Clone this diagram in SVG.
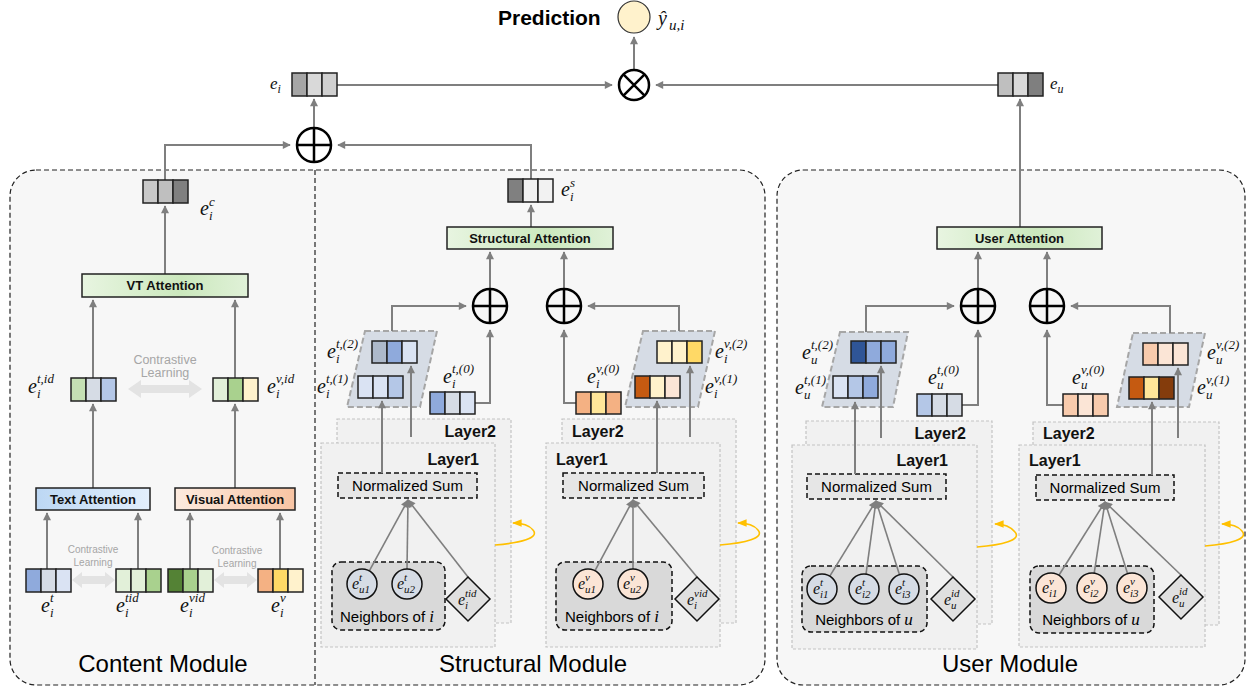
<svg xmlns="http://www.w3.org/2000/svg" width="1253" height="689" viewBox="0 0 1253 689">
<defs>
<marker id="ah" viewBox="0 0 10 10" refX="9" refY="5" markerWidth="4.5" markerHeight="4" orient="auto" markerUnits="strokeWidth"><path d="M0,0 L10,5 L0,10 z" fill="#7f7f7f"/></marker>
<marker id="ahs" viewBox="0 0 10 10" refX="9" refY="5" markerWidth="6" markerHeight="5" orient="auto" markerUnits="strokeWidth"><path d="M0,0 L10,5 L0,10 z" fill="#7f7f7f"/></marker>
<marker id="ahy" viewBox="0 0 10 10" refX="9" refY="5" markerWidth="6" markerHeight="6" orient="auto" markerUnits="strokeWidth"><path d="M0,1 L10,5 L0,9 z" fill="#ffc000"/></marker>
<linearGradient id="gG" x1="0" x2="1" y1="0" y2="0"><stop offset="0" stop-color="#e8f5e1"/><stop offset="0.6" stop-color="#cbe8bd"/><stop offset="1" stop-color="#e0f1d8"/></linearGradient>
<linearGradient id="gB" x1="0" x2="1" y1="0" y2="0"><stop offset="0" stop-color="#bcd7f4"/><stop offset="1" stop-color="#e3effc"/></linearGradient>
<linearGradient id="gO" x1="0" x2="1" y1="0" y2="0"><stop offset="0" stop-color="#fdebdf"/><stop offset="1" stop-color="#f8c4a3"/></linearGradient>
<style>
.ln{fill:none;stroke:#7f7f7f;stroke-width:2;marker-end:url(#ah)}
.nl{fill:none;stroke:#7f7f7f;stroke-width:1.6;marker-end:url(#ahs)}
.yl{fill:none;stroke:#ffc000;stroke-width:1.6;marker-end:url(#ahy)}
.c{stroke:#222;stroke-width:1.5}
.mod{fill:#f7f7f7;stroke:#222;stroke-width:1.2;stroke-dasharray:5 3}
.lay{fill:#f1f1f1;stroke:#c4c4c4;stroke-width:1.2;stroke-dasharray:3 2}
.par{fill:#d6dce5;stroke:#a6a6a6;stroke-width:2;stroke-dasharray:6 3}
.ns{fill:#e6e6e6;stroke:#111;stroke-width:1.5;stroke-dasharray:5 3}
.nb{fill:#d9d9d9;stroke:#111;stroke-width:1.5;stroke-dasharray:5 3}
.ct{fill:#d6dce5;stroke:#111;stroke-width:1.5}
.cv{fill:#fbe5d6;stroke:#111;stroke-width:1.5}
.dm{fill:#e0e0e0;stroke:#111;stroke-width:1.5}
.op{fill:none;stroke:#000;stroke-width:2.5}
.att{stroke:#222;stroke-width:1.5}
.s{font-family:"Liberation Sans",Arial,sans-serif;fill:#000}
.at{font-family:"Liberation Sans",Arial,sans-serif;font-weight:bold;font-size:13px;text-anchor:middle;fill:#111}
.lt{font-family:"Liberation Sans",Arial,sans-serif;font-weight:bold;font-size:16px;fill:#111}
.ttl{font-family:"Liberation Sans",Arial,sans-serif;font-size:24px;text-anchor:middle;fill:#000}
.cl{font-family:"Liberation Sans",Arial,sans-serif;fill:#a6a6a6;text-anchor:middle}
.mb{font-family:"Liberation Serif","Times New Roman",serif;font-style:italic;font-size:20px;fill:#111}
.ms{font-size:13px}
.mt{font-family:"Liberation Serif","Times New Roman",serif;font-style:italic;font-size:17px;fill:#111}
.mts{font-size:12px}
.mc{font-family:"Liberation Serif","Times New Roman",serif;font-style:italic;font-size:16px;fill:#111}
.mcs{font-size:11px}
</style>
</defs>
<rect width="1253" height="689" fill="#fff"/>

<!-- module backgrounds -->
<g id="content-structural-module">
<rect class="mod" x="10" y="170" width="755" height="515" rx="26"/>
<line x1="315" y1="170" x2="315" y2="685" stroke="#222" stroke-width="1.2" stroke-dasharray="5 3"/>
</g>
<g id="user-module"><rect class="mod" x="777" y="170" width="468" height="515" rx="26"/></g>

<!-- layer boxes -->
<g id="s-layers-t">
<rect class="lay" x="337" y="419" width="174" height="204"/>
<text class="lt" x="496" y="437" text-anchor="end">Layer2</text>
<rect class="lay" x="321" y="443" width="174" height="204"/>
<text class="lt" x="479" y="465" text-anchor="end">Layer1</text>
</g>
<g id="s-layers-v">
<rect class="lay" x="562" y="419" width="174" height="204"/>
<text class="lt" x="572" y="437">Layer2</text>
<rect class="lay" x="546" y="443" width="174" height="204"/>
<text class="lt" x="556" y="465">Layer1</text>
</g>
<g id="u-layers-t">
<rect class="lay" x="806" y="421" width="186" height="203"/>
<text class="lt" x="966" y="439" text-anchor="end">Layer2</text>
<rect class="lay" x="792" y="445" width="185" height="204"/>
<text class="lt" x="948" y="466" text-anchor="end">Layer1</text>
</g>
<g id="u-layers-v">
<rect class="lay" x="1033" y="422" width="186" height="203"/>
<text class="lt" x="1043" y="439">Layer2</text>
<rect class="lay" x="1019" y="445" width="186" height="202"/>
<text class="lt" x="1029" y="466">Layer1</text>
</g>

<!-- parallelograms -->
<g id="s-par-t"><polygon class="par" points="365,331 437,331 420,407 347,407"/></g>
<g id="s-par-v"><polygon class="par" points="643,331 715,331 698,407 625,407"/></g>
<g id="u-par-t"><polygon class="par" points="840,332 908,332 893,407 822,407"/></g>
<g id="u-par-v"><polygon class="par" points="1133,333 1205,333 1189,407 1117,407"/></g>

<!-- neighbor boxes -->
<g id="s-neigh-t"><rect class="nb" x="332" y="562" width="113" height="68" rx="9"/><text class="s" x="387" y="622" font-size="15" text-anchor="middle">Neighbors of <tspan font-family="Liberation Serif,serif" font-style="italic" font-size="17">i</tspan></text></g>
<g id="s-neigh-v"><rect class="nb" x="556" y="562" width="116" height="68" rx="9"/><text class="s" x="612" y="622" font-size="15" text-anchor="middle">Neighbors of <tspan font-family="Liberation Serif,serif" font-style="italic" font-size="17">i</tspan></text></g>
<g id="u-neigh-t"><rect class="nb" x="802" y="566" width="125" height="66" rx="9"/><text class="s" x="864" y="625" font-size="15" text-anchor="middle">Neighbors of <tspan font-family="Liberation Serif,serif" font-style="italic" font-size="17">u</tspan></text></g>
<g id="u-neigh-v"><rect class="nb" x="1030" y="566" width="124" height="67" rx="9"/><text class="s" x="1091" y="625" font-size="15" text-anchor="middle">Neighbors of <tspan font-family="Liberation Serif,serif" font-style="italic" font-size="17">u</tspan></text></g>

<!-- normalized sum -->
<g id="s-nsum-t"><rect class="ns" x="338" y="473" width="139" height="25"/><text class="s" x="407.5" y="491" font-size="15" text-anchor="middle">Normalized Sum</text></g>
<g id="s-nsum-v"><rect class="ns" x="563" y="473" width="141" height="25"/><text class="s" x="633.5" y="491" font-size="15" text-anchor="middle">Normalized Sum</text></g>
<g id="u-nsum-t"><rect class="ns" x="807" y="474" width="139" height="25"/><text class="s" x="876.5" y="492" font-size="15" text-anchor="middle">Normalized Sum</text></g>
<g id="u-nsum-v"><rect class="ns" x="1036" y="475" width="138" height="25"/><text class="s" x="1105" y="493" font-size="15" text-anchor="middle">Normalized Sum</text></g>

<!-- connectors -->
<g id="connectors">
<path class="ln" d="M634,69 V37"/>
<path class="ln" d="M337,85 H612"/>
<path class="ln" d="M998,85 H656"/>
<path class="ln" d="M1020,227 V99"/>
<path class="ln" d="M314,128 V99"/>
<path class="ln" d="M165,180 V145 H290"/>
<path class="ln" d="M531,179 V145 H338"/>
<path class="ln" d="M165,274 V206"/>
<path class="ln" d="M93,378 V300"/>
<path class="ln" d="M235,378 V300"/>
<path class="ln" d="M93,488 V404"/>
<path class="ln" d="M235,488 V404"/>
<path class="ln" d="M47,569 V513"/>
<path class="ln" d="M138,569 V513"/>
<path class="ln" d="M190,569 V513"/>
<path class="ln" d="M280,569 V513"/>
<path class="ln" d="M531,227 V205"/>
<path class="ln" d="M490,289 V252"/>
<path class="ln" d="M564,289 V252"/>
<path class="ln" d="M392,331 V306 H466"/>
<path class="ln" d="M474,403 H490 V330"/>
<path class="ln" d="M679,331 V306 H588"/>
<path class="ln" d="M576,403 H564 V330"/>
<path class="ln" d="M382,473 V401"/>
<path class="ln" d="M411,437 V366"/>
<path class="ln" d="M657,473 V401"/>
<path class="ln" d="M690,437 V366"/>
<path class="ln" d="M978,289 V252"/>
<path class="ln" d="M1047,289 V252"/>
<path class="ln" d="M866,332 V306 H954"/>
<path class="ln" d="M962,405 H978 V330"/>
<path class="ln" d="M1170,333 V306 H1071"/>
<path class="ln" d="M1063,405 H1047 V330"/>
<path class="ln" d="M855,474 V402"/>
<path class="ln" d="M881,438 V366"/>
<path class="ln" d="M1152,475 V402"/>
<path class="ln" d="M1178,438 V368"/>
<path class="nl" d="M369.3,570.9 L408,500"/>
<path class="nl" d="M407,569 L408,500"/>
<path class="nl" d="M468,577 L408,500"/>
<path class="nl" d="M595,570.7 L633,500"/>
<path class="nl" d="M633,569 L633,500"/>
<path class="nl" d="M697,577 L633,500"/>
<path class="nl" d="M829.8,576.2 L876,501"/>
<path class="nl" d="M866,574.1 L876,501"/>
<path class="nl" d="M899.5,574.7 L876,501"/>
<path class="nl" d="M953,577 L876,501"/>
<path class="nl" d="M1058.9,575.3 L1105,502"/>
<path class="nl" d="M1094.2,573.2 L1105,502"/>
<path class="nl" d="M1127.6,573.7 L1105,502"/>
<path class="nl" d="M1181,575 L1105,502"/>
<path class="yl" d="M495,545 C520,543 540,538 533,530 C529,525 522,523 513,523"/>
<path class="yl" d="M720,545 C745,543 765,538 758,530 C754,525 747,523 738,523"/>
<path class="yl" d="M977,547 C1002,545 1022,540 1015,532 C1011,527 1004,524 995,524"/>
<path class="yl" d="M1205,546 C1230,544 1249,539 1242,531 C1238,526 1231,524 1222,524"/>
<polygon points="128,389 141,380 141,385 189,385 189,380 202,389 189,398 189,393 141,393 141,398" fill="#e3e3e3"/>
<polygon points="72,580 82,572 82,576 105,576 105,572 115,580 105,588 105,584 82,584 82,588" fill="#e3e3e3"/>
<polygon points="214,580 224,572 224,576 247,576 247,572 257,580 247,588 247,584 224,584 224,588" fill="#e3e3e3"/>
</g>

<!-- top -->
<g id="prediction">
<text class="s" x="498" y="25" font-size="21" font-weight="bold">Prediction</text>
<circle cx="634" cy="17" r="16" fill="#fff2cc" stroke="#333" stroke-width="1.2"/>
<text class="mb" x="658" y="25" font-size="22">ŷ<tspan x="669" y="30" font-size="15">u,i</tspan></text>
</g>
<g id="mult"><circle class="op" cx="634" cy="85" r="15"/><path class="op" d="M623.4,74.4 L644.6,95.6 M644.6,74.4 L623.4,95.6"/></g>
<g id="add-top"><circle class="op" cx="314" cy="145" r="17"/><path class="op" d="M297,145 H331 M314,128 V162"/></g>
<g id="s-add-t"><circle class="op" cx="490" cy="306" r="17"/><path class="op" d="M473,306 H507 M490,289 V323"/></g>
<g id="s-add-v"><circle class="op" cx="564" cy="306" r="17"/><path class="op" d="M547,306 H581 M564,289 V323"/></g>
<g id="u-add-t"><circle class="op" cx="978" cy="306" r="17"/><path class="op" d="M961,306 H995 M978,289 V323"/></g>
<g id="u-add-v"><circle class="op" cx="1047" cy="306" r="17"/><path class="op" d="M1030,306 H1064 M1047,289 V323"/></g>

<!-- vectors -->
<g id="e-i"><rect class="c" x="292" y="73" width="15" height="23" fill="#a6a6a6"/><rect class="c" x="307" y="73" width="15" height="23" fill="#d9d9d9"/><rect class="c" x="322" y="73" width="15" height="23" fill="#d0d0d0"/><text class="mt" x="270" y="89">e<tspan class="mts" x="277.5" y="93">i</tspan></text></g>
<g id="e-u"><rect class="c" x="998" y="73" width="15" height="23" fill="#bfbfbf"/><rect class="c" x="1013" y="73" width="15" height="23" fill="#d9d9d9"/><rect class="c" x="1028" y="73" width="15" height="23" fill="#7f7f7f"/><text class="mt" x="1050" y="89">e<tspan class="mts" x="1057.5" y="93">u</tspan></text></g>
<g id="e-ic"><rect class="c" x="143" y="180" width="15" height="23" fill="#c9c9c9"/><rect class="c" x="158" y="180" width="15" height="23" fill="#bfbfbf"/><rect class="c" x="173" y="180" width="15" height="23" fill="#808080"/><text class="mb" x="200" y="215">e<tspan class="ms" x="209" y="220">i</tspan><tspan class="ms" x="209" y="206">c</tspan></text></g>
<g id="e-is"><rect class="c" x="508" y="179" width="15" height="23" fill="#808080"/><rect class="c" x="523" y="179" width="15" height="23" fill="#f2f2f2"/><rect class="c" x="538" y="179" width="15" height="23" fill="#f2f2f2"/><text class="mb" x="561" y="196">e<tspan class="ms" x="570" y="201">i</tspan><tspan class="ms" x="570" y="187">s</tspan></text></g>

<g id="e-it-id"><rect class="c" x="71" y="378" width="15" height="23" fill="#c5e0b4"/><rect class="c" x="86" y="378" width="15" height="23" fill="#d6dce5"/><rect class="c" x="101" y="378" width="15" height="23" fill="#b4c7e7"/><text class="mb" x="28" y="393">e<tspan class="ms" x="37" y="398">i</tspan><tspan class="ms" x="37" y="383">t,id</tspan></text></g>
<g id="e-iv-id"><rect class="c" x="213" y="378" width="15" height="23" fill="#e2f0d9"/><rect class="c" x="228" y="378" width="15" height="23" fill="#a9d18e"/><rect class="c" x="243" y="378" width="15" height="23" fill="#fff2cc"/><text class="mb" x="267" y="393">e<tspan class="ms" x="276" y="398">i</tspan><tspan class="ms" x="276" y="383">v,id</tspan></text></g>
<g id="cl-top"><text class="cl" x="165" y="364" font-size="12.5">Contrastive</text><text class="cl" x="165" y="377" font-size="12.5">Learning</text></g>

<g id="vt-att"><rect class="att" x="82" y="274" width="166" height="23" fill="url(#gG)"/><text class="at" x="165" y="290">VT Attention</text></g>
<g id="text-att"><rect class="att" x="36" y="488" width="114" height="22" fill="url(#gB)"/><text class="at" x="93" y="504">Text Attention</text></g>
<g id="visual-att"><rect class="att" x="175" y="488" width="120" height="22" fill="url(#gO)"/><text class="at" x="235" y="504">Visual Attention</text></g>
<g id="struct-att"><rect class="att" x="447" y="227" width="166" height="22" fill="url(#gG)"/><text class="at" x="530" y="243">Structural Attention</text></g>
<g id="user-att"><rect class="att" x="937" y="227" width="165" height="22" fill="url(#gG)"/><text class="at" x="1019.5" y="243">User Attention</text></g>

<g id="e-it"><rect class="c" x="26" y="569" width="15" height="23" fill="#8faadc"/><rect class="c" x="41" y="569" width="15" height="23" fill="#d6dce5"/><rect class="c" x="56" y="569" width="15" height="23" fill="#dae3f3"/><text class="mb" x="41" y="612">e<tspan class="ms" x="50" y="617">i</tspan><tspan class="ms" x="50" y="602">t</tspan></text></g>
<g id="e-itid"><rect class="c" x="116" y="569" width="15" height="23" fill="#e2f0d9"/><rect class="c" x="131" y="569" width="15" height="23" fill="#e2f0d9"/><rect class="c" x="146" y="569" width="15" height="23" fill="#a9d18e"/><text class="mb" x="116" y="612">e<tspan class="ms" x="125" y="617">i</tspan><tspan class="ms" x="125" y="602">tid</tspan></text></g>
<g id="e-ivid"><rect class="c" x="168" y="569" width="15" height="23" fill="#548235"/><rect class="c" x="183" y="569" width="15" height="23" fill="#a9d18e"/><rect class="c" x="198" y="569" width="15" height="23" fill="#e2f0d9"/><text class="mb" x="180" y="612">e<tspan class="ms" x="189" y="617">i</tspan><tspan class="ms" x="189" y="602">vid</tspan></text></g>
<g id="e-iv"><rect class="c" x="258" y="569" width="15" height="23" fill="#f4b183"/><rect class="c" x="273" y="569" width="15" height="23" fill="#ffd966"/><rect class="c" x="288" y="569" width="15" height="23" fill="#fff2cc"/><text class="mb" x="271" y="612">e<tspan class="ms" x="280" y="617">i</tspan><tspan class="ms" x="280" y="602">v</tspan></text></g>
<g id="cl-bottom"><text class="cl" x="93" y="553" font-size="10">Contrastive</text><text class="cl" x="93" y="566" font-size="10">Learning</text><text class="cl" x="237" y="554" font-size="10">Contrastive</text><text class="cl" x="237" y="567" font-size="10">Learning</text></g>

<g id="e-it2"><rect class="c" x="372" y="341" width="15" height="22" fill="#adb9ca"/><rect class="c" x="387" y="341" width="15" height="22" fill="#8faadc"/><rect class="c" x="402" y="341" width="15" height="22" fill="#dae3f3"/><text class="mb" x="327" y="358">e<tspan class="ms" x="336" y="363">i</tspan><tspan class="ms" x="336" y="348">t,(2)</tspan></text></g>
<g id="e-it1"><rect class="c" x="358" y="376" width="15" height="22" fill="#dae3f3"/><rect class="c" x="373" y="376" width="15" height="22" fill="#dae3f3"/><rect class="c" x="388" y="376" width="15" height="22" fill="#b4c7e7"/><text class="mb" x="317" y="393">e<tspan class="ms" x="326" y="398">i</tspan><tspan class="ms" x="326" y="383">t,(1)</tspan></text></g>
<g id="e-it0"><rect class="c" x="430" y="392" width="15" height="22" fill="#8faadc"/><rect class="c" x="445" y="392" width="15" height="22" fill="#d6dce5"/><rect class="c" x="460" y="392" width="15" height="22" fill="#dae3f3"/><text class="mb" x="443" y="383">e<tspan class="ms" x="452" y="388">i</tspan><tspan class="ms" x="452" y="373">t,(0)</tspan></text></g>
<g id="e-iv2"><rect class="c" x="657" y="341" width="15" height="22" fill="#fff2cc"/><rect class="c" x="672" y="341" width="15" height="22" fill="#fff2cc"/><rect class="c" x="687" y="341" width="15" height="22" fill="#ffd966"/><text class="mb" x="715" y="358">e<tspan class="ms" x="724" y="363">i</tspan><tspan class="ms" x="724" y="348">v,(2)</tspan></text></g>
<g id="e-iv1"><rect class="c" x="635" y="376" width="15" height="22" fill="#c55a11"/><rect class="c" x="650" y="376" width="15" height="22" fill="#fff2cc"/><rect class="c" x="665" y="376" width="15" height="22" fill="#fbe5d6"/><text class="mb" x="705" y="393">e<tspan class="ms" x="714" y="398">i</tspan><tspan class="ms" x="714" y="383">v,(1)</tspan></text></g>
<g id="e-iv0"><rect class="c" x="576" y="392" width="15" height="22" fill="#f4b183"/><rect class="c" x="591" y="392" width="15" height="22" fill="#ffe699"/><rect class="c" x="606" y="392" width="15" height="22" fill="#f4b183"/><text class="mb" x="587" y="383">e<tspan class="ms" x="596" y="388">i</tspan><tspan class="ms" x="596" y="373">v,(0)</tspan></text></g>

<g id="e-ut2"><rect class="c" x="851" y="341" width="15" height="22" fill="#2f5597"/><rect class="c" x="866" y="341" width="15" height="22" fill="#8faadc"/><rect class="c" x="881" y="341" width="15" height="22" fill="#8faadc"/><text class="mb" x="802" y="359">e<tspan class="ms" x="811" y="364">u</tspan><tspan class="ms" x="811" y="349">t,(2)</tspan></text></g>
<g id="e-ut1"><rect class="c" x="833" y="376" width="15" height="22" fill="#dae3f3"/><rect class="c" x="848" y="376" width="15" height="22" fill="#b4c7e7"/><rect class="c" x="863" y="376" width="15" height="22" fill="#8faadc"/><text class="mb" x="795" y="394">e<tspan class="ms" x="804" y="399">u</tspan><tspan class="ms" x="804" y="384">t,(1)</tspan></text></g>
<g id="e-ut0"><rect class="c" x="917" y="394" width="15" height="22" fill="#b4c7e7"/><rect class="c" x="932" y="394" width="15" height="22" fill="#d6dce5"/><rect class="c" x="947" y="394" width="15" height="22" fill="#d6dce5"/><text class="mb" x="928" y="384">e<tspan class="ms" x="937" y="389">u</tspan><tspan class="ms" x="937" y="374">t,(0)</tspan></text></g>
<g id="e-uv2"><rect class="c" x="1143" y="343" width="15" height="22" fill="#f8cbad"/><rect class="c" x="1158" y="343" width="15" height="22" fill="#fbe5d6"/><rect class="c" x="1173" y="343" width="15" height="22" fill="#fbe5d6"/><text class="mb" x="1207" y="359">e<tspan class="ms" x="1216" y="364">u</tspan><tspan class="ms" x="1216" y="349">v,(2)</tspan></text></g>
<g id="e-uv1"><rect class="c" x="1129" y="377" width="15" height="22" fill="#c55a11"/><rect class="c" x="1144" y="377" width="15" height="22" fill="#ffe699"/><rect class="c" x="1159" y="377" width="15" height="22" fill="#843c0c"/><text class="mb" x="1197" y="394">e<tspan class="ms" x="1206" y="399">u</tspan><tspan class="ms" x="1206" y="384">v,(1)</tspan></text></g>
<g id="e-uv0"><rect class="c" x="1063" y="394" width="15" height="22" fill="#f8cbad"/><rect class="c" x="1078" y="394" width="15" height="22" fill="#fbe5d6"/><rect class="c" x="1093" y="394" width="15" height="22" fill="#f8cbad"/><text class="mb" x="1072" y="384">e<tspan class="ms" x="1081" y="389">u</tspan><tspan class="ms" x="1081" y="374">v,(0)</tspan></text></g>

<!-- neighbor circles and diamonds -->
<g id="s-n-t1"><circle class="ct" cx="362" cy="584" r="15"/><text class="mc" x="352" y="589">e<tspan class="mcs" x="359" y="593">u1</tspan><tspan class="mcs" x="359" y="581">t</tspan></text></g>
<g id="s-n-t2"><circle class="ct" cx="407" cy="584" r="15"/><text class="mc" x="397" y="589">e<tspan class="mcs" x="404" y="593">u2</tspan><tspan class="mcs" x="404" y="581">t</tspan></text></g>
<g id="s-d-t"><polygon class="dm" points="468,577 490,599 468,621 446,599"/><text class="mc" x="458" y="605">e<tspan class="mcs" x="465" y="609">i</tspan><tspan class="mcs" x="465" y="597">tid</tspan></text></g>
<g id="s-n-v1"><circle class="cv" cx="588" cy="584" r="15"/><text class="mc" x="578" y="589">e<tspan class="mcs" x="585" y="593">u1</tspan><tspan class="mcs" x="585" y="581">v</tspan></text></g>
<g id="s-n-v2"><circle class="cv" cx="633" cy="584" r="15"/><text class="mc" x="623" y="589">e<tspan class="mcs" x="630" y="593">u2</tspan><tspan class="mcs" x="630" y="581">v</tspan></text></g>
<g id="s-d-v"><polygon class="dm" points="697,577 719,599 697,621 675,599"/><text class="mc" x="687" y="605">e<tspan class="mcs" x="694" y="609">i</tspan><tspan class="mcs" x="694" y="597">vid</tspan></text></g>

<g id="u-n-t1"><circle class="ct" cx="822" cy="589" r="15"/><text class="mc" x="813" y="594">e<tspan class="mcs" x="820" y="598">i1</tspan><tspan class="mcs" x="820" y="586">t</tspan></text></g>
<g id="u-n-t2"><circle class="ct" cx="864" cy="589" r="15"/><text class="mc" x="855" y="594">e<tspan class="mcs" x="862" y="598">i2</tspan><tspan class="mcs" x="862" y="586">t</tspan></text></g>
<g id="u-n-t3"><circle class="ct" cx="904" cy="589" r="15"/><text class="mc" x="895" y="594">e<tspan class="mcs" x="902" y="598">i3</tspan><tspan class="mcs" x="902" y="586">t</tspan></text></g>
<g id="u-d-t"><polygon class="dm" points="953,577 975,599 953,621 931,599"/><text class="mc" x="944" y="605">e<tspan class="mcs" x="951" y="609">u</tspan><tspan class="mcs" x="951" y="597">id</tspan></text></g>
<g id="u-n-v1"><circle class="cv" cx="1051" cy="588" r="15"/><text class="mc" x="1042" y="593">e<tspan class="mcs" x="1049" y="597">i1</tspan><tspan class="mcs" x="1049" y="585">v</tspan></text></g>
<g id="u-n-v2"><circle class="cv" cx="1092" cy="588" r="15"/><text class="mc" x="1083" y="593">e<tspan class="mcs" x="1090" y="597">i2</tspan><tspan class="mcs" x="1090" y="585">v</tspan></text></g>
<g id="u-n-v3"><circle class="cv" cx="1132" cy="588" r="15"/><text class="mc" x="1123" y="593">e<tspan class="mcs" x="1130" y="597">i3</tspan><tspan class="mcs" x="1130" y="585">v</tspan></text></g>
<g id="u-d-v"><polygon class="dm" points="1181,575 1203,597 1181,619 1159,597"/><text class="mc" x="1172" y="603">e<tspan class="mcs" x="1179" y="607">u</tspan><tspan class="mcs" x="1179" y="595">id</tspan></text></g>

<!-- titles -->
<g id="titles">
<text class="ttl" x="163" y="672">Content Module</text>
<text class="ttl" x="533" y="672">Structural Module</text>
<text class="ttl" x="1010" y="672">User Module</text>
</g>
</svg>
